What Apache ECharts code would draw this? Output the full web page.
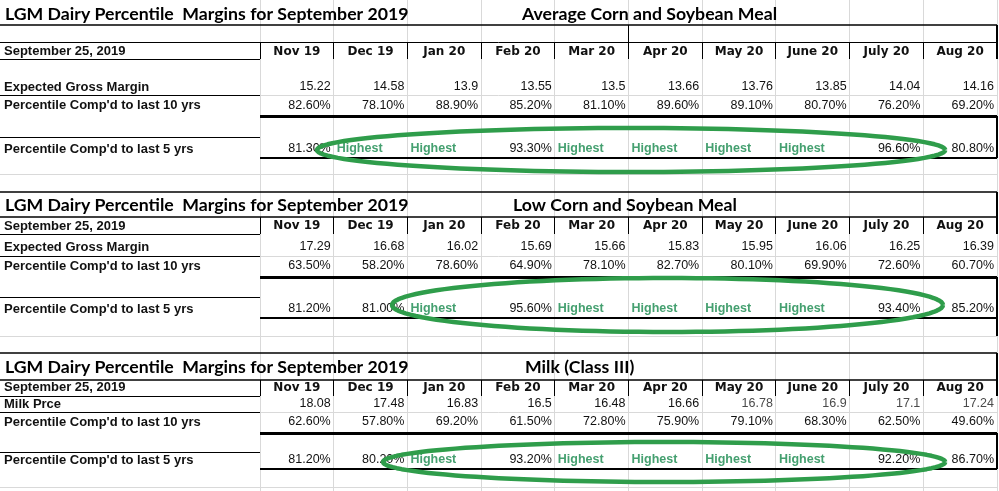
<!DOCTYPE html>
<html><head><meta charset="utf-8">
<script src="https://cdn.jsdelivr.net/npm/echarts@6/dist/echarts.min.js"></script>
<style>html,body{margin:0;padding:0;background:#fff}#c{width:999px;height:491px}</style>
</head><body><div id="c"></div>
<script>
// ---------------- data ----------------
const SHEET_TITLE = 'LGM Dairy Percentile  Margins for September 2019';
const AS_OF = 'September 25, 2019';
const MONTHS = ['Nov 19','Dec 19','Jan 20','Feb 20','Mar 20','Apr 20','May 20','June 20','July 20','Aug 20'];
const SCENARIOS = ['Average Corn and Soybean Meal','Low Corn and Soybean Meal','Milk (Class III)'];
const VALUE_LABELS = ['Expected Gross Margin','Expected Gross Margin','Milk Prce'];
const PCT10_LABEL = "Percentile Comp'd to last 10 yrs";
const PCT5_LABEL = "Percentile Comp'd to last 5 yrs";
const H = 'Highest';

const avgMargin = [15.22,14.58,13.9,13.55,13.5,13.66,13.76,13.85,14.04,14.16];
const avgPct10  = [82.6,78.1,88.9,85.2,81.1,89.6,89.1,80.7,76.2,69.2];
const avgPct5   = [81.3,H,H,93.3,H,H,H,H,96.6,80.8];

const lowMargin = [17.29,16.68,16.02,15.69,15.66,15.83,15.95,16.06,16.25,16.39];
const lowPct10  = [63.5,58.2,78.6,64.9,78.1,82.7,80.1,69.9,72.6,60.7];
const lowPct5   = [81.2,81.0,H,95.6,H,H,H,H,93.4,85.2];

const milkPrice = [18.08,17.48,16.83,16.5,16.48,16.66,16.78,16.9,17.1,17.24];
const milkPct10 = [62.6,57.8,69.2,61.5,72.8,75.9,79.1,68.3,62.5,49.6];
const milkPct5  = [81.2,80.2,H,93.2,H,H,H,H,92.2,86.7];

const TABLES = [
  {name:SCENARIOS[0], valueLabel:VALUE_LABELS[0], values:avgMargin, pct10:avgPct10, pct5:avgPct5},
  {name:SCENARIOS[1], valueLabel:VALUE_LABELS[1], values:lowMargin, pct10:lowPct10, pct5:lowPct5},
  {name:SCENARIOS[2], valueLabel:VALUE_LABELS[2], values:milkPrice, pct10:milkPct10, pct5:milkPct5}
];

// ---------------- layout (sheet rows / columns) ----------------
const N = MONTHS.length;
const LABEL_UNITS = 3.528;          // label column width in month-column units
const SHEET_ROWS = 491;             // vertical extent of the sheet (row units)
const LAYOUT = [
  {titleTop:null, titleY:14, titleBottom:25, subRow:[25,42], subDivider:5, headerTop:42, headerBottom:59, headerY:51.5,
   valY:87, valBottom:95, p10Y:105.5, p10Bottom:116, p5Top:137, p5Y:149, p5Bottom:158, boxBottom:158, rightTop:25,
   nameU:3.555, ring:{u1:0.773,u2:9.298,cy:150,ry:22}, lightFrom:99},
  {titleTop:192, titleY:205, titleBottom:217, subRow:null, headerTop:217, headerBottom:234, headerY:226,
   valY:247, valBottom:256, p10Y:266, p10Bottom:277, p5Top:297, p5Y:309, p5Bottom:318, boxBottom:336, rightTop:192,
   nameU:3.433, ring:{u1:1.791,u2:9.267,cy:305,ry:27}, lightFrom:99},
  {titleTop:353, titleY:367, titleBottom:380, subRow:null, headerTop:380, headerBottom:396, headerY:387.5,
   valY:404, valBottom:412, p10Y:422, p10Bottom:433, p5Top:452, p5Y:460, p5Bottom:469, boxBottom:469, rightTop:353,
   nameU:3.596, ring:{u1:1.669,u2:9.298,cy:462,ry:20}, lightFrom:6}
];
const GRAY_ROWS = [95,174,256,336,412,487];

// ---------------- styles ----------------
const ctx = document.createElement('canvas').getContext('2d');
ctx.font = 'bold 100px Lato';
const TITLE_SIZE = Math.round(100 * 403 / ctx.measureText(SHEET_TITLE).width * 10) / 10;
const F_TITLE = 'bold ' + TITLE_SIZE + 'px Lato, "Open Sans", sans-serif';
const F_LABEL = 'bold 13px "Liberation Sans", Arial, sans-serif';
const F_VALUE = '12.5px "Liberation Sans", Arial, sans-serif';
const F_HIGH  = 'bold 12.5px "Liberation Sans", Arial, sans-serif';
const F_MONTH = 'bold 12px "DejaVu Sans", Verdana, sans-serif';
const C_TEXT = '#111', C_LIGHT = '#4a4a4a', C_HIGH = '#45a070', C_GRID = '#d9d9d9', C_RING = '#2f9d4b';

// ---------------- build elements ----------------
const L = -LABEL_UNITS;
const gridItems = [], borderItems = [], textItems = [], ringItems = [];
const hl = (list,y,u1,u2,w,c) => list.push({k:'h',y,u1,u2,w,c});
const vl = (list,u,y1,y2,w,c) => list.push({k:'v',u,y1,y2,w,c});
const tx = (t,u,y,font,fill,align,dx) => textItems.push({t,u,y,font,fill,align,dx});

for (let i = 0; i <= N; i++) vl(gridItems, i, 0, SHEET_ROWS, 1, C_GRID);
GRAY_ROWS.forEach(y => hl(gridItems, y, L, N, 1, C_GRID));

TABLES.forEach((tb, b) => {
  const g = LAYOUT[b];
  // borders
  if (g.titleTop != null) hl(borderItems, g.titleTop, L, N, 1.5, '#000');
  hl(borderItems, g.titleBottom, L, N, 1.5, '#000');
  if (g.subRow) {
    hl(borderItems, g.subRow[1], L, N, 1, '#000');
    vl(borderItems, g.subDivider, g.subRow[0], g.subRow[1], 1, '#000');
  }
  vl(borderItems, N, g.rightTop, g.headerBottom, 2, '#000');
  for (let i = 0; i <= N; i++) vl(borderItems, i, g.headerTop, g.headerBottom, 1, '#000');
  hl(borderItems, g.headerBottom, L, 0, 1, '#000');
  hl(borderItems, g.valBottom, L, 0, 1, '#000');
  hl(borderItems, g.p10Bottom, 0, N, 3, '#000');
  hl(borderItems, g.p5Top, L, 0, 1, '#000');
  hl(borderItems, g.p5Bottom, 0, N, 2, '#000');
  vl(borderItems, N, g.p10Bottom, g.boxBottom, 2, '#000');

  // texts
  tx(SHEET_TITLE, L, g.titleY, F_TITLE, '#000', 'left', 5);
  tx(tb.name, g.nameU, g.titleY, F_TITLE, '#000', 'left', 0);
  tx(AS_OF, L, g.headerY, F_LABEL, C_TEXT, 'left', 4);
  MONTHS.forEach((m, i) => tx(m, i + 0.5, g.headerY, F_MONTH, C_TEXT, 'center', 0));
  tx(tb.valueLabel, L, g.valY, F_LABEL, C_TEXT, 'left', 4);
  tb.values.forEach((v, i) => tx(String(v), i + 1, g.valY, F_VALUE, i >= g.lightFrom ? C_LIGHT : C_TEXT, 'right', -3));
  tx(PCT10_LABEL, L, g.p10Y, F_LABEL, C_TEXT, 'left', 4);
  tb.pct10.forEach((v, i) => tx(v.toFixed(2) + '%', i + 1, g.p10Y, F_VALUE, C_TEXT, 'right', -3));
  tx(PCT5_LABEL, L, g.p5Y, F_LABEL, C_TEXT, 'left', 4);
  tb.pct5.forEach((v, i) => {
    if (v === H) tx(H, i, g.p5Y, F_HIGH, C_HIGH, 'left', 3);
    else tx(v.toFixed(2) + '%', i + 1, g.p5Y, F_VALUE, C_TEXT, 'right', -3);
  });
  ringItems.push(g.ring);
});

// ---------------- render ----------------
const snap = (v, w) => (Math.round(w) % 2 === 1 ? Math.floor(v) + 0.5 : Math.round(v));
function lineRender(list) {
  return function (params, api) {
    const it = list[params.dataIndex];
    if (it.k === 'h') {
      const y = snap(api.coord([0, it.y])[1], it.w);
      return {type:'line', shape:{x1:api.coord([it.u1,0])[0], y1:y, x2:api.coord([it.u2,0])[0], y2:y},
              style:{stroke:it.c, lineWidth:it.w}};
    }
    const x = snap(api.coord([it.u, 0])[0], it.w);
    return {type:'line', shape:{x1:x, y1:api.coord([0,it.y1])[1], x2:x, y2:api.coord([0,it.y2])[1]},
            style:{stroke:it.c, lineWidth:it.w}};
  };
}
function textRender(params, api) {
  const it = textItems[params.dataIndex];
  const p = api.coord([api.value(0), api.value(1)]);
  return {type:'text', x:p[0] + it.dx, y:p[1],
          style:{text:it.t, font:it.font, fill:it.fill, align:it.align, verticalAlign:'middle'}};
}
function ringRender(params, api) {
  const r = ringItems[params.dataIndex];
  const x1 = api.coord([r.u1, 0])[0], x2 = api.coord([r.u2, 0])[0];
  const c = api.coord([0, r.cy])[1], ry = api.coord([0, r.cy + r.ry])[1] - c;
  const cx = (x1 + x2) / 2, rx = (x2 - x1) / 2;
  const pts = [];
  for (let k = 0; k <= 120; k++) {
    const a = k / 120 * Math.PI * 2;
    pts.push([cx + rx * Math.cos(a), c + ry * Math.sin(a)]);
  }
  return {type:'polyline', shape:{points:pts}, style:{stroke:C_RING, lineWidth:4.5, fill:null, lineJoin:'round'}};
}

const chart = echarts.init(document.getElementById('c'), null, {renderer:'canvas'});
chart.setOption({
  animation:false,
  backgroundColor:'#fff',
  grid:{left:0, right:2, top:0, bottom:0},
  xAxis:{type:'value', min:L, max:N, show:false},
  yAxis:{type:'value', min:0, max:SHEET_ROWS, inverse:true, show:false},
  series:[
    {type:'custom', silent:true, z:1, renderItem:lineRender(gridItems), data:gridItems.map(it => [it.u ?? it.u1, it.y ?? it.y1])},
    {type:'custom', silent:true, z:2, renderItem:lineRender(borderItems), data:borderItems.map(it => [it.u ?? it.u1, it.y ?? it.y1])},
    {type:'custom', silent:true, z:3, renderItem:textRender, data:textItems.map(it => [it.u, it.y])},
    {type:'custom', silent:true, z:4, renderItem:ringRender, data:ringItems.map(r => [(r.u1 + r.u2) / 2, r.cy])}
  ]
});
</script></body></html>
